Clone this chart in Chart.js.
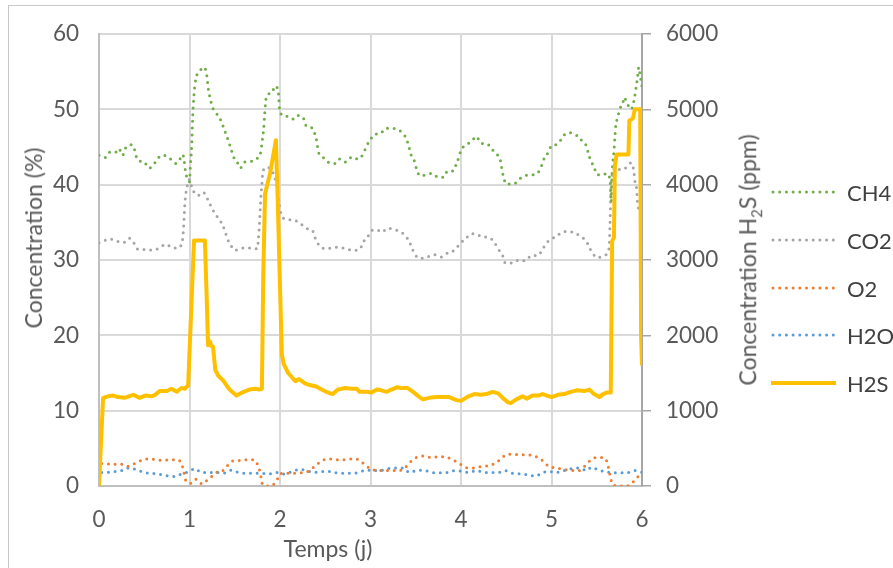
<!DOCTYPE html>
<html lang="fr">
<head>
    <meta charset="UTF-8">
    <title>Concentration biogaz</title>
    <script src="https://cdn.jsdelivr.net/npm/chart.js@4.4.0/dist/chart.umd.min.js"></script>
    <style>
        html, body { margin: 0; padding: 0; background: #ffffff; overflow: hidden; }
        .wrap { position: relative; width: 893px; height: 568px; overflow: hidden; font-family: 'Lato', sans-serif; }
        .frame { position: absolute; left: 8px; top: 5px; width: 950px; height: 650px; border: 1px solid #c8c8c8; box-sizing: border-box; }
        canvas { position: absolute; left: 0; top: 0; }
        .axis-title { position: absolute; color: #595959; font-size: 23px; white-space: nowrap; transform: translate(-50%, -50%); }
        .axis-title.vert { transform: translate(-50%, -50%) rotate(-90deg); }
        .legend-row { position: absolute; left: 771px; height: 26px; display: flex; align-items: center; transform: translateY(-50%); }
        .legend-row span { margin-left: 11px; font-size: 22px; color: #404040; white-space: nowrap; }
    </style>
</head>
<body>
<div class="wrap">
    <div class="frame"></div>
    <canvas id="gasChart" width="893" height="568"></canvas>
    <div class="axis-title vert" style="left:33px; top:238px;">Concentration (%)</div>
    <div class="axis-title vert" style="left:749px; top:260px;">Concentration H<sub style="font-size:15px;">2</sub>S (ppm)</div>
    <div class="axis-title" style="left:328px; top:548px;">Temps (j)</div>
    <div id="legend"></div>
</div>

<script>
    // CH4 (%)
    const ch4T = [0, 0.07, 0.12, 0.18, 0.22, 0.26, 0.29, 0.36, 0.40, 0.42, 0.50, 0.55, 0.60, 0.65, 0.71, 0.78, 0.85, 0.90, 0.925, 0.94, 0.95, 0.97, 1.0, 1.01, 1.025, 1.035, 1.05, 1.07, 1.12, 1.16, 1.19, 1.21, 1.23, 1.25, 1.29, 1.34, 1.37, 1.40, 1.43, 1.46, 1.49, 1.53, 1.56, 1.61, 1.69, 1.75, 1.79, 1.80, 1.82, 1.83, 1.85, 1.91, 1.945, 1.98, 2.0, 2.07, 2.14, 2.19, 2.26, 2.29, 2.36, 2.39, 2.41, 2.42, 2.47, 2.53, 2.61, 2.66, 2.72, 2.80, 2.86, 2.92, 2.955, 3.0, 3.05, 3.11, 3.17, 3.23, 3.30, 3.36, 3.40, 3.43, 3.45, 3.49, 3.51, 3.55, 3.62, 3.68, 3.75, 3.81, 3.85, 3.91, 3.95, 3.98, 4.0, 4.06, 4.12, 4.17, 4.22, 4.29, 4.35, 4.40, 4.44, 4.45, 4.47, 4.50, 4.58, 4.65, 4.71, 4.78, 4.85, 4.89, 4.92, 4.97, 5.0, 5.05, 5.10, 5.14, 5.20, 5.26, 5.31, 5.35, 5.39, 5.41, 5.44, 5.47, 5.51, 5.57, 5.61, 5.64, 5.65, 5.655, 5.66, 5.665, 5.675, 5.69, 5.70, 5.71, 5.73, 5.76, 5.79, 5.80, 5.84, 5.88, 5.91, 5.93, 5.95, 5.965, 5.98, 6.0];
    const ch4V = [43.9, 43.6, 44.3, 44.3, 44.8, 43.9, 44.8, 45.3, 44.4, 43.4, 43.0, 42.2, 42.6, 43.5, 43.9, 43.5, 42.8, 43.5, 44.0, 43.3, 42.2, 41.0, 40.4, 42.6, 45.3, 48.9, 52.0, 54.0, 55.2, 55.6, 54.6, 52.5, 51.4, 50.4, 49.6, 48.7, 47.8, 46.8, 45.8, 44.7, 43.6, 42.9, 42.2, 43.0, 43.1, 43.5, 44.5, 45.5, 47.5, 49.3, 51.7, 52.2, 53.1, 52.4, 49.6, 49.1, 48.7, 49.2, 48.8, 47.8, 47.5, 46.5, 45.5, 44.5, 43.7, 43.0, 42.8, 43.4, 43.0, 43.7, 43.4, 44.1, 45.1, 46.0, 46.7, 46.8, 47.5, 47.5, 47.3, 46.8, 46.0, 44.8, 43.9, 43.0, 42.0, 41.2, 41.3, 41.5, 41.0, 41.0, 41.8, 41.8, 42.8, 43.8, 44.6, 45.3, 45.8, 46.4, 45.5, 45.4, 44.6, 44.0, 43.0, 42.2, 41.0, 40.1, 40.1, 40.8, 41.2, 41.3, 41.6, 42.5, 43.5, 44.4, 45.2, 45.3, 45.9, 46.6, 46.9, 46.6, 46.3, 45.5, 45.1, 44.0, 43.1, 42.3, 41.3, 41.3, 41.5, 41.0, 40.1, 38.6, 37.7, 40.1, 42.6, 44.4, 46.2, 47.8, 48.9, 50.2, 50.9, 51.6, 50.7, 50.0, 51.1, 52.5, 54.2, 55.6, 54.5, 53.0];

    // CO2 (%)
    const co2T = [0, 0.066, 0.12, 0.195, 0.27, 0.335, 0.39, 0.435, 0.515, 0.59, 0.665, 0.74, 0.80, 0.87, 0.92, 0.93, 0.94, 0.95, 0.97, 1.0, 1.025, 1.06, 1.10, 1.15, 1.20, 1.23, 1.27, 1.32, 1.36, 1.39, 1.42, 1.45, 1.50, 1.58, 1.66, 1.75, 1.76, 1.77, 1.78, 1.79, 1.80, 1.81, 1.85, 1.91, 1.94, 1.97, 1.99, 2.01, 2.07, 2.15, 2.23, 2.29, 2.36, 2.39, 2.43, 2.50, 2.57, 2.65, 2.72, 2.81, 2.88, 2.92, 2.97, 3.01, 3.07, 3.13, 3.18, 3.25, 3.32, 3.38, 3.43, 3.46, 3.50, 3.55, 3.63, 3.70, 3.78, 3.86, 3.93, 3.99, 4.05, 4.10, 4.16, 4.23, 4.31, 4.37, 4.41, 4.46, 4.49, 4.57, 4.64, 4.71, 4.78, 4.85, 4.90, 4.94, 5.0, 5.05, 5.12, 5.19, 5.27, 5.35, 5.39, 5.42, 5.46, 5.51, 5.58, 5.63, 5.64, 5.645, 5.65, 5.655, 5.66, 5.68, 5.70, 5.76, 5.83, 5.88, 5.91, 5.92, 5.94, 5.95, 6.0];
    const co2V = [32.3, 32.6, 32.8, 32.5, 32.3, 32.9, 32.2, 31.4, 31.4, 31.3, 31.6, 32.1, 31.7, 31.6, 32.5, 33.5, 35.5, 37.7, 39.5, 40.7, 39.7, 38.8, 38.6, 39.0, 38.1, 37.3, 36.4, 35.5, 34.8, 33.9, 32.8, 32.1, 31.3, 31.6, 31.6, 31.5, 32.6, 34.2, 36.4, 38.6, 40.1, 41.7, 42.3, 41.9, 41.0, 39.5, 37.5, 36.2, 35.4, 35.3, 34.8, 34.2, 33.9, 32.9, 32.0, 31.5, 31.6, 31.7, 31.5, 31.3, 31.4, 32.4, 33.1, 33.9, 34.0, 33.7, 34.2, 34.1, 33.8, 33.3, 32.4, 31.5, 30.6, 30.2, 30.4, 30.7, 30.4, 31.0, 31.3, 32.2, 32.8, 33.4, 33.5, 33.1, 33.0, 32.3, 31.5, 30.6, 29.6, 29.6, 30.0, 29.9, 30.6, 30.6, 31.4, 32.2, 32.8, 33.1, 33.7, 33.8, 33.5, 32.9, 32.4, 31.6, 30.8, 30.3, 30.6, 31.2, 32.4, 34.2, 36.4, 38.6, 40.4, 41.5, 42.3, 42.0, 42.3, 42.9, 41.8, 40.6, 39.5, 37.7, 36.0];

    // O2 (%)
    const o2T = [0.03, 0.07, 0.16, 0.24, 0.31, 0.39, 0.47, 0.54, 0.63, 0.71, 0.80, 0.87, 0.92, 0.94, 0.96, 1.01, 1.07, 1.14, 1.20, 1.26, 1.30, 1.35, 1.41, 1.47, 1.55, 1.63, 1.71, 1.75, 1.78, 1.81, 1.88, 1.96, 2.0, 2.08, 2.17, 2.26, 2.33, 2.39, 2.46, 2.53, 2.63, 2.71, 2.80, 2.87, 2.93, 3.0, 3.08, 3.16, 3.23, 3.31, 3.38, 3.44, 3.51, 3.59, 3.67, 3.76, 3.85, 3.92, 3.99, 4.07, 4.15, 4.23, 4.31, 4.39, 4.45, 4.51, 4.60, 4.68, 4.77, 4.85, 4.91, 4.97, 5.05, 5.14, 5.22, 5.30, 5.38, 5.44, 5.51, 5.59, 5.62, 5.64, 5.68, 5.76, 5.83, 5.89, 5.94, 6.0];
    const o2V = [3.0, 2.95, 2.9, 2.9, 2.6, 2.95, 3.4, 3.6, 3.5, 3.4, 3.5, 3.5, 2.7, 1.7, 0.7, 0.36, 0.9, 0.27, 0.85, 1.4, 1.8, 1.9, 2.6, 3.3, 3.4, 3.5, 3.5, 2.9, 1.8, 0.13, 0, 0.6, 1.6, 1.7, 1.7, 1.8, 2.05, 2.7, 3.3, 3.6, 3.5, 3.5, 3.6, 3.5, 2.9, 2.3, 2.05, 2.05, 2.05, 2.05, 2.4, 3.2, 3.8, 4.0, 3.8, 3.9, 3.8, 3.4, 2.9, 2.4, 2.4, 2.6, 2.7, 3.1, 3.7, 4.2, 4.2, 4.15, 4.1, 3.8, 3.3, 2.6, 2.4, 2.2, 2.05, 2.05, 2.8, 3.5, 3.8, 3.7, 2.95, 1.8, 0.13, 0, 0, 0.36, 1.1, 1.6];

    // H2O (%)
    const h2oT = [0.03, 0.08, 0.17, 0.25, 0.32, 0.41, 0.50, 0.57, 0.65, 0.74, 0.83, 0.91, 0.99, 1.06, 1.13, 1.21, 1.30, 1.37, 1.46, 1.54, 1.62, 1.70, 1.79, 1.87, 1.96, 2.05, 2.13, 2.21, 2.29, 2.37, 2.45, 2.53, 2.62, 2.70, 2.78, 2.86, 2.95, 3.03, 3.11, 3.19, 3.27, 3.36, 3.43, 3.52, 3.60, 3.68, 3.76, 3.85, 3.93, 4.01, 4.09, 4.17, 4.26, 4.34, 4.42, 4.49, 4.57, 4.66, 4.74, 4.82, 4.89, 4.97, 5.05, 5.14, 5.22, 5.30, 5.39, 5.44, 5.52, 5.60, 5.69, 5.77, 5.85, 5.92, 6.0];
    const h2oV = [1.8, 1.8, 1.9, 2.05, 2.4, 2.2, 1.8, 1.7, 1.6, 1.4, 1.25, 1.6, 1.9, 2.3, 1.8, 1.8, 1.8, 1.7, 2.1, 1.8, 1.7, 1.7, 1.7, 1.6, 1.8, 1.6, 1.9, 2.2, 2.05, 1.8, 1.9, 1.95, 1.75, 1.7, 1.7, 1.75, 2.1, 2.05, 2.05, 2.3, 2.4, 2.4, 1.8, 2.1, 2.05, 1.8, 1.75, 1.8, 2.05, 1.95, 1.8, 2.05, 1.8, 1.8, 1.8, 2.05, 1.7, 1.6, 1.5, 1.3, 1.7, 1.95, 1.8, 2.05, 2.3, 2.4, 2.05, 2.5, 2.1, 1.9, 1.75, 1.75, 1.8, 2.05, 1.8];

    // H2S (ppm, axe de droite)
    const h2sT = [0, 0.045, 0.1, 0.16, 0.21, 0.28, 0.38, 0.45, 0.51, 0.58, 0.62, 0.67, 0.75, 0.80, 0.86, 0.91, 0.95, 0.97, 0.985, 1.05, 1.17, 1.19, 1.205, 1.225, 1.24, 1.26, 1.285, 1.32, 1.38, 1.43, 1.47, 1.52, 1.58, 1.66, 1.73, 1.77, 1.80, 1.815, 1.835, 1.89, 1.955, 1.97, 2.02, 2.04, 2.09, 2.17, 2.21, 2.28, 2.33, 2.40, 2.46, 2.51, 2.58, 2.64, 2.72, 2.79, 2.85, 2.88, 2.96, 3.01, 3.07, 3.12, 3.18, 3.23, 3.29, 3.34, 3.41, 3.47, 3.53, 3.58, 3.65, 3.73, 3.80, 3.87, 3.95, 4.0, 4.08, 4.15, 4.22, 4.28, 4.35, 4.41, 4.46, 4.52, 4.55, 4.61, 4.68, 4.73, 4.79, 4.85, 4.90, 4.95, 5.0, 5.07, 5.14, 5.21, 5.28, 5.36, 5.42, 5.47, 5.53, 5.57, 5.61, 5.655, 5.67, 5.69, 5.70, 5.72, 5.85, 5.86, 5.90, 5.92, 5.98, 5.99, 6.0];
    const h2sV = [0, 1170, 1190, 1200, 1180, 1170, 1210, 1170, 1200, 1190, 1210, 1260, 1260, 1290, 1250, 1300, 1290, 1320, 1330, 3260, 3260, 2500, 1870, 1920, 1860, 1850, 1540, 1460, 1390, 1300, 1250, 1200, 1240, 1280, 1290, 1280, 1290, 2800, 3880, 4150, 4590, 4000, 1750, 1620, 1500, 1390, 1420, 1360, 1340, 1320, 1280, 1250, 1220, 1280, 1300, 1290, 1290, 1250, 1250, 1240, 1280, 1270, 1250, 1280, 1310, 1300, 1300, 1250, 1190, 1150, 1170, 1180, 1180, 1180, 1140, 1130, 1190, 1220, 1210, 1220, 1250, 1230, 1170, 1110, 1100, 1150, 1190, 1160, 1200, 1200, 1220, 1200, 1180, 1210, 1220, 1250, 1270, 1260, 1280, 1220, 1180, 1220, 1240, 1240, 3250, 3300, 4250, 4400, 4400, 4850, 4880, 5000, 5000, 2000, 1600];

    const xTicks = [0, 1, 2, 3, 4, 5, 6];
    const yTicks = [0, 10, 20, 30, 40, 50, 60];
    const y1Ticks = [0, 1000, 2000, 3000, 4000, 5000, 6000];

    const series = [
        { label: 'CH4', t: ch4T, v: ch4V, color: '#70ad47', dotted: true },
        { label: 'CO2', t: co2T, v: co2V, color: '#a5a5a5', dotted: true },
        { label: 'O2',  t: o2T,  v: o2V,  color: '#ed7d31', dotted: true },
        { label: 'H2O', t: h2oT, v: h2oV, color: '#5b9bd5', dotted: true },
        { label: 'H2S', t: h2sT, v: h2sV, color: '#ffc000', dotted: false }
    ];

    const pairs = (t, v) => t.map((x, i) => ({ x: x, y: v[i] }));

    const datasets = series.map(s => s.dotted ? {
        label: s.label,
        data: pairs(s.t, s.v),
        yAxisID: 'y',
        borderColor: s.color,
        borderWidth: 3,
        borderDash: [0, 6.7],
        borderCapStyle: 'round',
        cubicInterpolationMode: 'monotone',
        pointRadius: 0,
        fill: false,
        order: 2
    } : {
        label: s.label,
        data: pairs(s.t, s.v),
        yAxisID: 'y1',
        borderColor: s.color,
        borderWidth: 4,
        borderJoinStyle: 'round',
        tension: 0,
        pointRadius: 0,
        fill: false,
        order: 1
    });

    const tickFont = { family: 'Lato', size: 22.5 };
    const tickColor = '#595959';
    const plainLabel = v => String(v);

    const ctx = document.getElementById('gasChart').getContext('2d');
    const gasChart = new Chart(ctx, {
        type: 'line',
        data: { datasets: datasets },
        options: {
            responsive: false,
            animation: false,
            layout: { padding: { left: 0, right: 123, top: 34, bottom: 0 } },
            plugins: {
                legend: { display: false },
                tooltip: { enabled: false }
            },
            scales: {
                x: {
                    type: 'linear',
                    min: 0,
                    max: 6,
                    afterBuildTicks: s => { s.ticks = xTicks.map(v => ({ value: v })); },
                    ticks: { font: tickFont, color: tickColor, padding: 20, callback: plainLabel },
                    grid: { color: '#d9d9d9', lineWidth: 2, drawTicks: false },
                    border: { color: '#bfbfbf', width: 2 },
                    afterFit: s => { s.height = 82; }
                },
                y: {
                    position: 'left',
                    min: 0,
                    max: 60,
                    afterBuildTicks: s => { s.ticks = yTicks.map(v => ({ value: v })); },
                    ticks: { font: tickFont, color: tickColor, padding: 20, callback: plainLabel },
                    grid: { color: '#d9d9d9', lineWidth: 2, drawTicks: false },
                    border: { color: '#bfbfbf', width: 2 },
                    afterFit: s => { s.width = 99; }
                },
                y1: {
                    position: 'right',
                    min: 0,
                    max: 6000,
                    afterBuildTicks: s => { s.ticks = y1Ticks.map(v => ({ value: v })); },
                    ticks: { font: tickFont, color: tickColor, padding: 15, callback: plainLabel },
                    grid: { drawOnChartArea: false, color: '#a6a6a6', lineWidth: 1.5, tickLength: 9 },
                    border: { color: '#a6a6a6', width: 2 },
                    afterFit: s => { s.width = 128; }
                }
            }
        }
    });

    // légende à droite (coupée par le bord comme l'original)
    const legendY = [192, 240, 288, 335, 383];
    const legendBox = document.getElementById('legend');
    series.forEach((s, i) => {
        const row = document.createElement('div');
        row.className = 'legend-row';
        row.style.top = legendY[i] + 'px';
        const line = s.dotted
            ? `<line x1="2" y1="6" x2="63" y2="6" stroke="${s.color}" stroke-width="3" stroke-linecap="round" stroke-dasharray="0 6.7"/>`
            : `<line x1="0" y1="6" x2="65" y2="6" stroke="${s.color}" stroke-width="4"/>`;
        row.innerHTML = `<svg width="65" height="12">${line}</svg><span>${s.label}</span>`;
        legendBox.appendChild(row);
    });
</script>
</body>
</html>
